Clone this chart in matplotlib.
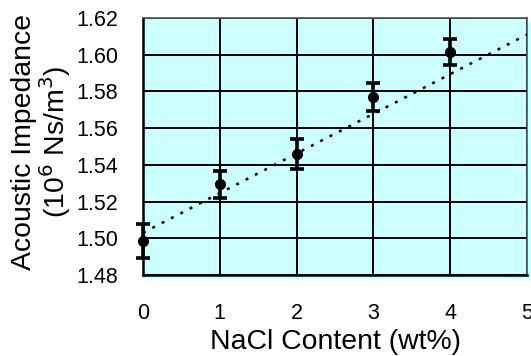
import matplotlib
matplotlib.use("Agg")
import matplotlib.pyplot as plt
from matplotlib.patches import Rectangle

plt.rcParams['font.family'] = ['Liberation Sans', 'DejaVu Sans']

nacl = [0, 1, 2, 3, 4]
impedance = [1.4985, 1.5295, 1.546, 1.577, 1.6015]
err = [0.0095, 0.0073, 0.008, 0.0075, 0.0073]
trend_x = [0, 5]
trend_y = [1.503, 1.611]
xticks = [0, 1, 2, 3, 4, 5]
yticks = [1.48, 1.50, 1.52, 1.54, 1.56, 1.58, 1.60, 1.62]

W, H = 531, 356
fig = plt.figure(figsize=(W/100, H/100), dpi=100)
L, R, T, B = 143, 527, 18, 275
# light shadow of the plot area
shadow = Rectangle(((L+3)/W, 1-(B+4)/H), (R-L+1)/W, (B-T)/H,
                   transform=fig.transFigure, facecolor='#CCFFFF',
                   edgecolor='none', zorder=-5)
fig.add_artist(shadow)
ax = fig.add_axes([L/W, 1-B/H, (R-L)/W, (B-T)/H])
ax.set_zorder(2)
ax.set_facecolor('#CCFFFF')
ax.set_xlim(0, 5)
ax.set_ylim(1.48, 1.62)
ax.set_xticks(xticks)
ax.set_yticks(yticks)
ax.set_yticklabels([f"{v:.2f}" for v in yticks])
ax.grid(True, color='black', linewidth=1.4)
ax.set_axisbelow(True)
ax.tick_params(length=0, labelsize=15.5)
ax.tick_params(axis='y', pad=18)
ax.tick_params(axis='x', pad=20)
for s in ['left', 'bottom']:
    ax.spines[s].set_linewidth(1.8)
for s in ['top', 'right']:
    ax.spines[s].set_color('#555555')
    ax.spines[s].set_linewidth(1.2)

ax.plot(trend_x, trend_y, linestyle=(0, (1.2, 3)), color='black', linewidth=1.8, zorder=3)
ax.errorbar(nacl, impedance, yerr=err, fmt='o', color='black', markersize=7,
            elinewidth=2.6, capsize=5, capthick=2.6, zorder=4, clip_on=False)

ax.set_xlabel('NaCl Content (wt%)', fontsize=20.4, labelpad=4)
ax.set_ylabel('Acoustic Impedance\n(10$^6$ Ns/m$^3$)', fontsize=20.4, linespacing=1.0)
ax.yaxis.set_label_coords(-0.183, 0.5175)

fig.savefig('out.png', dpi=100)
